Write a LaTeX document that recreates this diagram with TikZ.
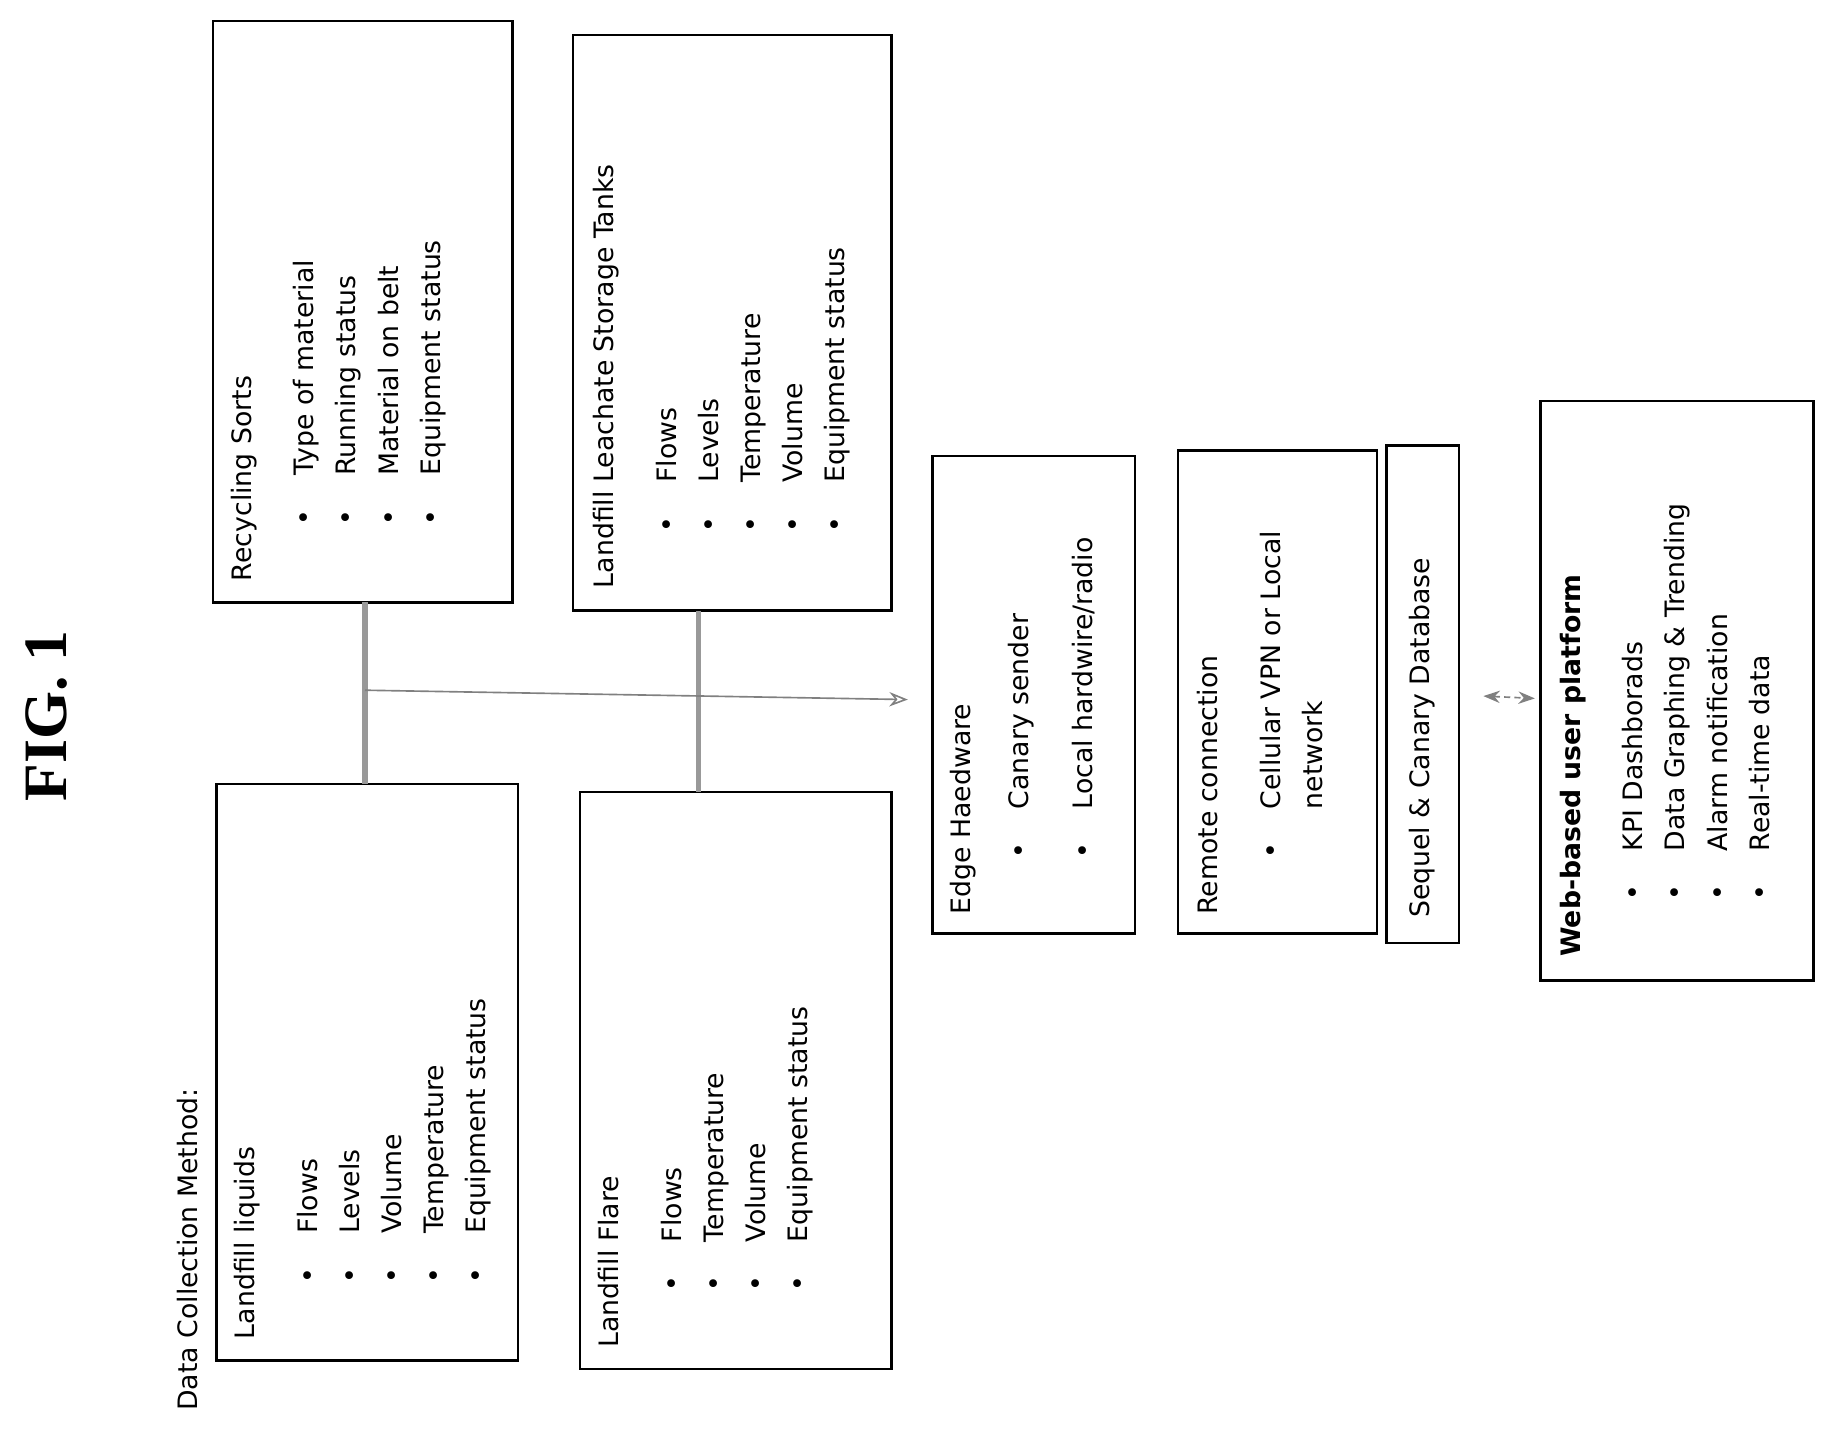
\documentclass[tikz,border=0pt]{standalone}
\usepackage{fontspec}
\setmainfont{DejaVu Sans}
\newfontfamily\figfont{Liberation Serif}
\usetikzlibrary{arrows.meta}
\begin{document}
\begin{tikzpicture}[x=0.02cm,y=-0.02cm,
  box/.style={draw,line width=1.2pt},
  txt/.style={rotate=90,anchor=north west,align=left,inner sep=0pt,font=\fontsize{13}{20.5}\selectfont},
  conn/.style={draw=gray!80,line width=2.5pt},
  thin/.style={draw=gray,line width=0.8pt}]
\newcommand{\bi}[1]{\hspace*{0.95cm}\makebox[0.85cm][l]{•}#1}
\useasboundingbox (0,0) rectangle (1560,1226);
\node[rotate=90,font=\figfont\bfseries\fontsize{30}{36}\selectfont] (fig) at (40,612) {FIG. 1};
\node[rotate=90,anchor=west,font=\fontsize{13}{16}\selectfont] (dcm) at (160,1212) {Data Collection Method:};
% boxes
\draw[box] (185,670) rectangle (443,1163);
\draw[box] (182,18) rectangle (438,515);
\draw[box] (490,30) rectangle (762,522);
\draw[box] (496,677) rectangle (762,1170);
\draw[box] (797,390) rectangle (970,798);
\draw[box] (1007,385) rectangle (1177,798);
\draw[box] (1185,381) rectangle (1247,806);
\draw[box] (1317,343) rectangle (1550,838);
% texts
\node[txt] (t1) at (200,1145) {Landfill liquids\\[0.35cm]\bi{Flows}\\\bi{Levels}\\\bi{Volume}\\\bi{Temperature}\\\bi{Equipment status}};
\node[txt] (t2) at (197,497) {Recycling Sorts\\[0.35cm]\bi{Type of material}\\\bi{Running status}\\\bi{Material on belt}\\\bi{Equipment status}};
\node[txt] (t3) at (507,503) {Landfill Leachate Storage Tanks\\[0.35cm]\bi{Flows}\\\bi{Levels}\\\bi{Temperature}\\\bi{Volume}\\\bi{Equipment status}};
\node[txt] (t4) at (511,1152) {Landfill Flare\\[0.35cm]\bi{Flows}\\\bi{Temperature}\\\bi{Volume}\\\bi{Equipment status}};
\node[txt,font=\fontsize{13}{31}\selectfont] (t5) at (812,782) {Edge Haedware\\[-0.1cm]\bi{Canary sender}\\\bi{Local hardwire/radio}};
\node[txt] (t6) at (1023,782) {Remote connection\\[0.35cm]\bi{Cellular VPN or Local}\\\hspace*{1.8cm}network};
\node[txt] (t7) at (1204,785) {Sequel \& Canary Database};
\node[txt] (t8) at (1333,818) {\textbf{Web-based user platform}\\[0.35cm]\bi{KPI Dashborads}\\\bi{Data Graphing \& Trending}\\\bi{Alarm notification}\\\bi{Real-time data}};
% connectors
\coordinate (a1) at (312,515); \coordinate (a2) at (312,670);
\coordinate (b1) at (597,522); \coordinate (b2) at (597,677);
\draw[conn] (a1) -- (a2);
\draw[conn] (b1) -- (b2);
\coordinate (s) at (312,590); \coordinate (e) at (776,598);
\draw[thin,-{Stealth[length=9pt,width=7pt,open]}] (s) -- (e);
\coordinate (d1) at (1268,595); \coordinate (d2) at (1312,597);
\draw[thin,densely dashed,{Stealth[length=8pt,width=6pt]}-{Stealth[length=8pt,width=6pt]}] (d1) -- (d2);
\end{tikzpicture}
\end{document}
